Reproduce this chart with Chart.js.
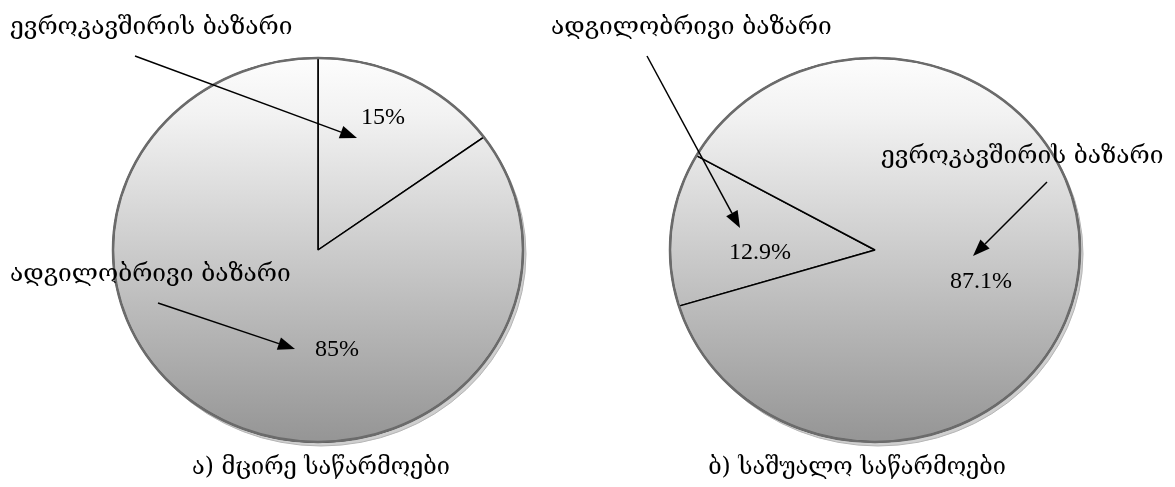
<!DOCTYPE html>
<html>
<head>
<meta charset="utf-8">
<script src="https://cdn.jsdelivr.net/npm/chart.js@4/dist/chart.umd.min.js"></script>
<style>
  html, body { margin: 0; background: #fff; }
  body { width: 1175px; height: 487px; position: relative; overflow: hidden; }
  .pie-box { position: absolute; top: 0; height: 487px; }
  #smallBox  { left: 0;     width: 540px; }
  #mediumBox { left: 540px; width: 635px; }
</style>
</head>
<body>
<div class="pie-box" id="smallBox"><canvas id="smallChart"></canvas></div>
<div class="pie-box" id="mediumBox"><canvas id="mediumChart"></canvas></div>
<script>
// market shares of exports, by enterprise size
const SMALL_MARKETS  = ['ევროკავშირის ბაზარი', 'ადგილობრივი ბაზარი'];
const SMALL_SHARES   = [15, 85];
const MEDIUM_MARKETS = ['ადგილობრივი ბაზარი', 'ევროკავშირის ბაზარი'];
const MEDIUM_SHARES  = [12.9, 87.1];
const TITLES         = ['ა) მცირე საწარმოები', 'ბ) საშუალო საწარმოები'];

// callout placement (page coordinates): label, arrow start -> tip, value text
const SMALL_CALLOUTS = [
  { label: [10, 28],  from: [135, 56],  to: [357, 138], value: [383, 118] },
  { label: [10, 275], from: [158, 303], to: [295, 349], value: [337, 350] },
];
const MEDIUM_CALLOUTS = [
  { label: [551, 28], from: [647, 56],  to: [740, 228], value: [760, 253] },
  { label: [881, 157], from: [1047, 182], to: [973, 256], value: [981, 282] },
];

const GEO_FONT = "24.5px 'DejaVu Serif', 'DejaVu Sans', serif";
const TITLE_FONT = "23.5px 'DejaVu Serif', 'DejaVu Sans', serif";
const NUM_FONT = "24px 'Liberation Serif', 'Times New Roman', serif";
const RADIUS = 192;
const STRETCH = 205 / 192;

function pieFill(context) {
  const { ctx, chartArea } = context.chart;
  if (!chartArea) return '#ccc';
  const cy = (chartArea.top + chartArea.bottom) / 2;
  const g = ctx.createLinearGradient(0, cy - RADIUS, 0, cy + RADIUS);
  g.addColorStop(0, '#fdfdfd');
  g.addColorStop(0.15, '#f2f2f2');
  g.addColorStop(1, '#959595');
  return g;
}

// draws the slices squashed into an ellipse, with a drop rim and a grey rim line
const ellipsePlugin = {
  id: 'ellipse',
  beforeDatasetsDraw(chart) {
    const { x, y, outerRadius } = chart.getDatasetMeta(0).data[0];
    const ctx = chart.ctx;
    ctx.save();
    ctx.beginPath();
    ctx.ellipse(x + 3, y + 4, outerRadius * STRETCH, outerRadius, 0, 0, Math.PI * 2);
    ctx.fillStyle = '#cfcfcf';
    ctx.fill();
    ctx.strokeStyle = '#b5b5b5';
    ctx.lineWidth = 1;
    ctx.stroke();
    ctx.restore();
    ctx.save();
    ctx.translate(x, y);
    ctx.scale(STRETCH, 1);
    ctx.translate(-x, -y);
  },
  afterDatasetsDraw(chart) {
    const ctx = chart.ctx;
    ctx.restore();
    const { x, y, outerRadius } = chart.getDatasetMeta(0).data[0];
    ctx.save();
    ctx.beginPath();
    ctx.ellipse(x, y, outerRadius * STRETCH, outerRadius, 0, 0, Math.PI * 2);
    ctx.strokeStyle = '#6b6b6b';
    ctx.lineWidth = 2.5;
    ctx.stroke();
    ctx.restore();
  },
};

function arrow(ctx, from, to) {
  const ang = Math.atan2(to[1] - from[1], to[0] - from[0]);
  const len = 17, half = 6.5;
  const bx = to[0] - len * Math.cos(ang), by = to[1] - len * Math.sin(ang);
  ctx.beginPath();
  ctx.moveTo(from[0], from[1]);
  ctx.lineTo(bx, by);
  ctx.stroke();
  ctx.beginPath();
  ctx.moveTo(to[0], to[1]);
  ctx.lineTo(bx + half * Math.sin(ang), by - half * Math.cos(ang));
  ctx.lineTo(bx - half * Math.sin(ang), by + half * Math.cos(ang));
  ctx.closePath();
  ctx.fill();
}

const calloutPlugin = {
  id: 'callouts',
  afterDraw(chart, args, opts) {
    const ctx = chart.ctx;
    const values = chart.data.datasets[0].data;
    const labels = chart.data.labels;
    ctx.save();
    ctx.translate(-opts.originX, 0);
    ctx.fillStyle = '#000';
    ctx.strokeStyle = '#000';
    ctx.lineWidth = 1.5;
    opts.callouts.forEach((c, i) => {
      ctx.font = GEO_FONT;
      ctx.textAlign = 'left';
      ctx.textBaseline = 'middle';
      ctx.fillText(labels[i], c.label[0], c.label[1]);
      arrow(ctx, c.from, c.to);
      ctx.font = NUM_FONT;
      ctx.textAlign = 'center';
      ctx.fillText(values[i] + '%', c.value[0], c.value[1]);
    });
    ctx.font = TITLE_FONT;
    ctx.textAlign = 'center';
    ctx.fillText(opts.title, opts.titleX, 468);
    ctx.restore();
  },
};

function makePie(id, labels, shares, rotation, padding, callouts, originX, title, titleX) {
  return new Chart(document.getElementById(id), {
    type: 'pie',
    data: {
      labels,
      datasets: [{
        data: shares,
        backgroundColor: pieFill,
        borderColor: '#000',
        borderWidth: 1.5,
      }],
    },
    options: {
      responsive: true, maintainAspectRatio: false, animation: false,
      radius: RADIUS, rotation,
      layout: { padding },
      plugins: {
        legend: { display: false },
        tooltip: { enabled: false },
        callouts: { callouts, originX, title, titleX },
      },
    },
    plugins: [ellipsePlugin, calloutPlugin],
  });
}

makePie('smallChart', SMALL_MARKETS, SMALL_SHARES, 0,
  { left: 96, right: 0, top: 13, bottom: 0 }, SMALL_CALLOUTS, 0, TITLES[0], 321);
makePie('mediumChart', MEDIUM_MARKETS, MEDIUM_SHARES, 253,
  { left: 35, right: 0, top: 13, bottom: 0 }, MEDIUM_CALLOUTS, 540, TITLES[1], 857);
</script>
</body>
</html>
